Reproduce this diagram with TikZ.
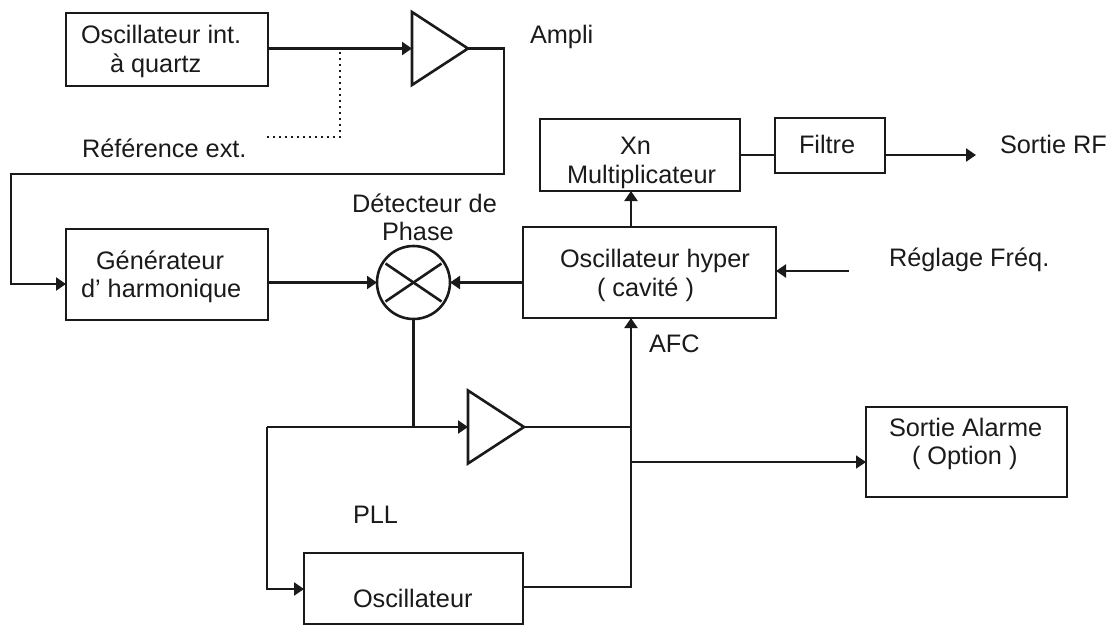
\documentclass[tikz,border=0pt]{standalone}
\usepackage{fontspec}
\setmainfont{Liberation Sans}
\usetikzlibrary{arrows.meta,shapes.geometric}
\definecolor{ink}{HTML}{1A1A1A}
\tikzset{
  box/.style={draw=ink,line width=2.6pt,rectangle,inner sep=0pt,outer sep=0pt},
  lab/.style={anchor=base west,inner sep=0pt,outer sep=0pt,text=ink,font=\fontsize{25.3}{28}\selectfont},
  wire/.style={draw=ink,line width=2.3pt},
  thin wire/.style={draw=ink,line width=1.4pt},
  arr/.style={-{Triangle[length=10pt,width=13pt]}},
  amp/.style={draw=ink,line width=2.6pt,isosceles triangle,isosceles triangle stretches,shape border rotate=0,inner sep=0pt,outer sep=0pt,minimum width=73pt,minimum height=56pt,anchor=lower side},
}
\begin{document}
\begin{tikzpicture}[x=1pt,y=-1pt]
\useasboundingbox (0,0) rectangle (1109,625);
% boxes
\node[box,minimum width=202pt,minimum height=73pt] (quartz) at (167,49.5) {};
\node[box,minimum width=202pt,minimum height=91pt] (gen) at (167,274.5) {};
\node[box,minimum width=200pt,minimum height=72pt] (xn) at (640,155) {};
\node[box,minimum width=110pt,minimum height=55pt] (filtre) at (830,145.5) {};
\node[box,minimum width=253pt,minimum height=91pt] (hyper) at (649.5,272.5) {};
\node[box,minimum width=219pt,minimum height=71pt] (osc) at (413.5,588.5) {};
\node[box,minimum width=201pt,minimum height=90pt] (alarme) at (966.5,452) {};
\node[amp] (ampa) at (412,48.5) {};
\node[amp] (ampb) at (468,427) {};
\node[draw=ink,line width=2.6pt,circle,minimum size=73pt,inner sep=0pt,outer sep=0pt] (mix) at (413.5,282.5) {};
\draw[ink,line width=2.6pt] ([shift={(-28,-19)}]mix.center) -- ([shift={(28,19)}]mix.center);
\draw[ink,line width=2.6pt] ([shift={(-28,19)}]mix.center) -- ([shift={(28,-19)}]mix.center);
% labels
\node[lab] (t1) at (81,43) {Oscillateur int.};
\node[lab] (t2) at (110,72) {à quartz};
\node[lab] (t3) at (82,157) {Référence ext.};
\node[lab] (t4) at (530,43) {Ampli};
\node[lab] (t5) at (96,269) {Générateur};
\node[lab] (t6) at (81,297) {d' harmonique};
\node[lab] (t7) at (352,212) {Détecteur de};
\node[lab] (t8) at (382,240) {Phase};
\node[lab] (t9) at (620,154) {Xn};
\node[lab] (t10) at (567,183) {Multiplicateur};
\node[lab] (t11) at (799,153) {Filtre};
\node[lab] (t12) at (1000,153) {Sortie RF};
\node[lab] (t13) at (560,267) {Oscillateur hyper};
\node[lab] (t14) at (597,296) {( cavité )};
\node[lab] (t15) at (889,266) {Réglage Fréq.};
\node[lab] (t16) at (649,352) {AFC};
\node[lab] (t17) at (353,523) {PLL};
\node[lab] (t18) at (353,607) {Oscillateur};
\node[lab] (t19) at (889,436) {Sortie Alarme};
\node[lab] (t20) at (912,464) {( Option )};
% free ends and junctions
\coordinate (dotj) at (340,48.5);
\coordinate (refend) at (267,137);
\coordinate (reg) at (849,271);
\coordinate (rfout) at (976,155);
\coordinate (afcj) at (631,427);
\coordinate (alarmj) at (631,462);
\coordinate (loopl) at (267,427);
\coordinate (mixj) at (413.5,427);
% connectors
\draw[wire,arr] (quartz.east |- ampa.lower side) -- (ampa.lower side);
\draw[ink,line width=1.2pt,dash pattern=on 1.6pt off 4.4pt] (refend) -| (dotj);
\draw[wire,arr] (ampa.apex) -| (504,174) -| (11,284) -- (gen.west |- 0,284);
\draw[wire,arr] (gen.east |- mix.west) -- (mix.west);
\draw[wire,arr] (hyper.west |- mix.east) -- (mix.east);
\draw[wire,arr] (hyper.north -| 631,0) -- (xn.south -| 631,0);
\draw[wire] (xn.east |- 0,155) -- (filtre.west |- 0,155);
\draw[wire,arr] (filtre.east |- 0,155) -- (rfout);
\draw[wire,arr] (reg) -- (hyper.east |- reg);
\draw[wire] (mix.south) -- (mixj);
\draw[wire,arr] (loopl) -- (ampb.lower side);
\draw[wire,arr] (loopl) |- (osc.west |- 0,589);
\draw[wire] (ampb.apex) -- (afcj);
\draw[wire,arr] (osc.east |- 0,587) -| (hyper.south -| afcj);
\draw[thin wire,arr] (alarmj) -- (alarme.west |- alarmj);
\end{tikzpicture}
\end{document}
